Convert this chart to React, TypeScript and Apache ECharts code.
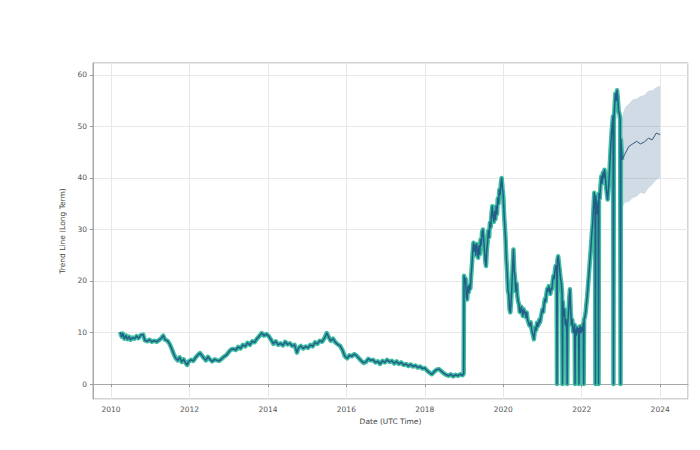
import React, { useEffect, useRef } from "react";
import * as echarts from "echarts";

const earlyYears = [
  2010.23, 2010.27, 2010.30, 2010.34, 2010.38, 2010.42, 2010.46, 2010.50, 2010.55, 2010.60,
  2010.65, 2010.70, 2010.76, 2010.82, 2010.86, 2010.92, 2010.98, 2011.04, 2011.10, 2011.16,
  2011.22, 2011.28, 2011.33, 2011.38, 2011.44, 2011.50, 2011.55, 2011.60, 2011.65, 2011.70,
  2011.75, 2011.80, 2011.85, 2011.90, 2011.94, 2011.98, 2012.04, 2012.10, 2012.16, 2012.22,
  2012.27, 2012.32, 2012.37, 2012.42, 2012.47, 2012.52, 2012.58, 2012.64, 2012.70, 2012.76,
  2012.82, 2012.88, 2012.94, 2013.00, 2013.06, 2013.12, 2013.18, 2013.24, 2013.30, 2013.36,
  2013.42, 2013.48, 2013.54, 2013.60, 2013.66, 2013.72, 2013.78, 2013.84, 2013.90, 2013.96,
  2014.02, 2014.08, 2014.14, 2014.20, 2014.26, 2014.32, 2014.38, 2014.44, 2014.50, 2014.56,
  2014.62, 2014.68, 2014.74, 2014.78, 2014.84, 2014.90, 2014.96, 2015.02, 2015.08, 2015.14,
  2015.20, 2015.26, 2015.32, 2015.38, 2015.44, 2015.50, 2015.55, 2015.60, 2015.66, 2015.72,
  2015.78, 2015.84, 2015.90, 2015.96, 2016.02, 2016.08, 2016.14, 2016.20, 2016.26, 2016.32,
  2016.38, 2016.44, 2016.50, 2016.56, 2016.62, 2016.68, 2016.74, 2016.80, 2016.86, 2016.92,
  2016.98, 2017.04, 2017.10, 2017.16, 2017.22, 2017.28, 2017.34, 2017.40, 2017.46, 2017.52,
  2017.58, 2017.64, 2017.70, 2017.76, 2017.82, 2017.88, 2017.94, 2018.00, 2018.06, 2018.12,
  2018.18, 2018.24, 2018.30, 2018.36, 2018.42, 2018.48, 2018.54, 2018.60, 2018.66, 2018.72,
  2018.78, 2018.84, 2018.90, 2018.96, 2018.99,
];

const earlyValues = [
  10.1, 9.2, 9.8, 8.8, 9.4, 8.7, 9.2, 8.6, 9.0, 8.8,
  9.3, 8.9, 9.5, 9.6, 8.5, 8.3, 8.6, 8.2, 8.4, 8.2,
  8.5, 8.9, 9.4, 8.6, 8.4, 7.7, 6.8, 5.8, 5.0, 4.6,
  5.2, 4.3, 4.8, 4.1, 3.7, 4.4, 4.7, 4.5, 5.2, 5.7,
  6.0, 5.5, 5.0, 4.6, 5.3, 4.8, 4.4, 4.8, 4.6, 4.5,
  4.9, 5.3, 5.6, 6.2, 6.7, 6.8, 6.6, 7.2, 6.9, 7.6,
  7.3, 8.0, 7.6, 8.3, 8.1, 8.8, 9.3, 9.9, 9.4, 9.7,
  9.3, 8.6, 7.8, 8.3, 7.6, 7.9, 7.5, 8.2, 7.7, 7.9,
  7.4, 7.6, 6.1, 7.0, 7.4, 6.9, 7.3, 7.0, 7.6, 7.3,
  8.1, 7.8, 8.4, 8.2, 8.9, 9.9, 9.1, 8.4, 8.8, 8.1,
  7.7, 7.4, 6.6, 5.4, 5.0, 5.6, 5.4, 5.8, 5.5, 5.0,
  4.5, 4.1, 4.3, 4.9, 4.6, 4.7, 4.2, 4.4, 3.9, 4.5,
  4.2, 4.7, 4.3, 4.5, 4.0, 4.4, 3.9, 4.2, 3.7, 3.9,
  3.5, 3.8, 3.4, 3.6, 3.2, 3.4, 3.0, 3.1, 2.6, 2.2,
  1.9, 2.4, 2.8, 2.9, 2.5, 2.1, 1.8, 1.6, 1.9, 1.5,
  1.8, 1.6, 1.9, 1.7, 2.0,
];

const lateYears = [
  2019.00, 2019.02, 2019.04, 2019.06, 2019.08, 2019.10, 2019.12, 2019.14, 2019.16, 2019.18,
  2019.20, 2019.22, 2019.24, 2019.26, 2019.28, 2019.30, 2019.32, 2019.34, 2019.36, 2019.38,
  2019.40, 2019.42, 2019.44, 2019.46, 2019.48, 2019.50, 2019.52, 2019.54, 2019.56, 2019.58,
  2019.60, 2019.62, 2019.64, 2019.66, 2019.68, 2019.70, 2019.72, 2019.74, 2019.76, 2019.78,
  2019.80, 2019.82, 2019.84, 2019.86, 2019.88, 2019.90, 2019.92, 2019.94, 2019.96, 2019.98,
  2020.00, 2020.02, 2020.04, 2020.06, 2020.08, 2020.10, 2020.12, 2020.14, 2020.16, 2020.18,
  2020.20, 2020.22, 2020.24, 2020.26, 2020.28, 2020.30, 2020.32, 2020.34, 2020.36, 2020.38,
  2020.40, 2020.42, 2020.44, 2020.46, 2020.48, 2020.50, 2020.52, 2020.54, 2020.56, 2020.58,
  2020.60, 2020.62, 2020.64, 2020.66, 2020.68, 2020.70, 2020.72, 2020.74, 2020.76, 2020.78,
  2020.80, 2020.82, 2020.84, 2020.86, 2020.88, 2020.90, 2020.92, 2020.94, 2020.96, 2020.98,
  2021.00, 2021.02, 2021.04, 2021.06, 2021.08, 2021.10, 2021.12, 2021.14, 2021.16, 2021.18,
  2021.20, 2021.22, 2021.24, 2021.26, 2021.28, 2021.30, 2021.32, 2021.34, 2021.36, 2021.38,
  2021.40, 2021.42, 2021.44, 2021.46, 2021.48, 2021.50, 2021.52, 2021.54, 2021.56, 2021.58,
  2021.60, 2021.62, 2021.64, 2021.66, 2021.68, 2021.70, 2021.72, 2021.74, 2021.76, 2021.78,
  2021.80, 2021.82, 2021.84, 2021.86, 2021.88, 2021.90, 2021.92, 2021.94, 2021.96, 2021.98,
  2022.00, 2022.02, 2022.04, 2022.06, 2022.08, 2022.10, 2022.12, 2022.14, 2022.16, 2022.18,
  2022.20, 2022.22, 2022.24, 2022.26, 2022.28, 2022.30, 2022.32, 2022.34, 2022.36, 2022.38,
  2022.40, 2022.42, 2022.44, 2022.46, 2022.48, 2022.50, 2022.52, 2022.54, 2022.56, 2022.58,
  2022.60, 2022.62, 2022.64, 2022.66, 2022.68, 2022.70, 2022.72, 2022.74, 2022.76, 2022.78,
  2022.80, 2022.82, 2022.84, 2022.86, 2022.88, 2022.90, 2022.92, 2022.94, 2022.96, 2022.98,
  2023.00, 2023.02, 2023.03,
];

const lateValues = [
  21.0, 19.5, 20.5, 17.0, 16.4, 19.0, 17.8, 19.2, 18.5, 21.0,
  23.0, 25.5, 27.4, 25.8, 27.0, 25.0, 27.2, 26.0, 24.5, 26.8,
  25.2, 28.0, 27.0, 29.5, 30.0, 28.2, 26.0, 24.0, 22.9, 26.0,
  27.5, 29.8, 28.5, 31.3, 30.5, 33.0, 34.5, 32.5, 31.5, 33.5,
  32.0, 34.5, 33.0, 36.0, 35.0, 37.7, 36.8, 39.0, 40.0, 38.0,
  36.5, 33.0, 30.5, 28.0, 24.0, 21.5, 18.0, 17.5, 14.5, 13.9,
  16.0, 19.0, 23.0, 26.1, 22.0, 20.5, 18.0, 19.5, 17.0, 16.0,
  15.5, 14.0, 13.9, 15.0, 14.2, 13.2, 14.5, 13.8, 14.0, 13.0,
  13.9, 12.5, 12.0, 11.5, 11.3, 12.0, 10.8, 10.0, 9.5, 8.7,
  10.0, 11.0, 10.5, 11.9, 11.2, 11.5, 12.5, 12.0, 13.0, 13.8,
  14.5, 14.0, 15.5, 16.5, 16.0, 17.5, 18.5, 18.0, 19.0, 18.2,
  17.5, 18.5, 18.4, 20.0, 21.0, 20.5, 22.2, 23.0, 22.0, 24.0,
  24.8, 23.5, 22.0, 20.5, 19.6, 17.5, 16.0, 13.2, 14.5, 11.5,
  12.5, 10.0, 11.5, 13.5, 16.5, 18.4, 14.0, 11.5, 12.5, 10.2,
  10.0, 11.5, 10.5, 9.5, 11.0, 10.0, 10.8, 9.8, 11.2, 10.0,
  11.0, 10.2, 11.8, 12.5, 13.0, 13.9, 15.5, 17.0, 19.0, 21.0,
  23.0, 25.0, 27.0, 29.4, 31.0, 34.0, 37.1, 35.0, 36.5, 34.0,
  33.0, 35.5, 37.0, 36.0, 38.5, 40.3, 39.0, 41.0, 40.0, 41.6,
  40.5, 38.5, 37.0, 35.8, 37.5, 40.0, 43.0, 46.0, 48.5, 50.5,
  52.0, 51.0, 54.0, 56.4, 55.0, 57.0, 55.5, 53.0, 52.5, 51.4,
  47.5, 45.0, 43.5,
];

const dropYears = [
  2021.37, 2021.51, 2021.63, 2021.83, 2021.93, 2022.05, 2022.35, 2022.43, 2022.81, 2022.99,
];

const forecastYears = [2023.03, 2023.1, 2023.2, 2023.3, 2023.4, 2023.5, 2023.6, 2023.7, 2023.8, 2023.9, 2024.0];
const forecastMid = [43.5, 44.6, 46.1, 46.6, 47.1, 46.6, 47.0, 47.7, 47.4, 48.7, 48.4];
const forecastUpper = [52.0, 53.6, 54.4, 55.2, 55.4, 55.9, 56.1, 56.9, 57.0, 57.6, 57.9];
const forecastLower = [34.0, 35.2, 35.4, 36.1, 36.4, 37.1, 36.9, 38.0, 38.7, 39.6, 40.1];

const xTickYears = [2010, 2012, 2014, 2016, 2018, 2020, 2022, 2024];

export default function App() {
  const ref = useRef<HTMLDivElement>(null);
  useEffect(() => {
    if (!ref.current) return;
    const chart = echarts.init(ref.current, undefined, { renderer: "svg" });

    const pts: number[][] = [
      ...earlyYears.map((y, i) => [y, earlyValues[i]]),
      ...lateYears.map((y, i) => [y, lateValues[i]]),
    ];
    dropYears.forEach((d) => pts.push([d, 0]));
    pts.sort((a, b) => a[0] - b[0]);

    const bandData = forecastYears.map((y, i) => [y, forecastLower[i], forecastUpper[i]]);
    const fcMid = forecastYears.map((y, i) => [y, forecastMid[i]]);

    const font = "DejaVu Sans";
    chart.setOption({
      animation: false,
      backgroundColor: "#ffffff",
      grid: {
        left: 93,
        right: 12,
        top: 63,
        bottom: 51,
        show: true,
        borderColor: "#a8a8a8",
        borderWidth: 1,
        backgroundColor: "transparent",
      },
      xAxis: {
        type: "value",
        min: 2009.54,
        max: 2024.71,
        splitNumber: 7,
        name: "Date (UTC Time)",
        nameLocation: "middle",
        nameGap: 18,
        nameTextStyle: { fontFamily: font, fontSize: 7.5, color: "#444" },
        axisLine: { show: true, lineStyle: { color: "#a8a8a8" } },
        axisTick: { show: true, length: 3, lineStyle: { color: "#999" } },
        axisLabel: {
          fontFamily: font,
          fontSize: 7.5,
          color: "#555",
          margin: 6,
          showMinLabel: false,
          showMaxLabel: false,
          formatter: (v: number) =>
            xTickYears.includes(Math.round(v)) && Math.abs(v - Math.round(v)) < 1e-6 ? String(Math.round(v)) : "",
        },
        splitLine: { show: true, lineStyle: { color: "#e8e8e8", width: 1 } },
      },
      yAxis: {
        type: "value",
        min: -2.9,
        max: 62.3,
        splitNumber: 6,
        name: "Trend Line (Long Term)",
        nameLocation: "middle",
        nameGap: 26,
        nameTextStyle: { fontFamily: font, fontSize: 7.5, color: "#444" },
        axisLine: { show: true, lineStyle: { color: "#a8a8a8" } },
        axisTick: { show: true, length: 3, lineStyle: { color: "#999" } },
        axisLabel: {
          fontFamily: font,
          fontSize: 7.5,
          color: "#555",
          margin: 6,
          showMinLabel: false,
          showMaxLabel: false,
          formatter: (v: number) =>
            Math.abs(v - Math.round(v)) < 1e-6 && Math.round(v) % 10 === 0 ? String(Math.round(v)) : "",
        },
        splitLine: { show: true, lineStyle: { color: "#e8e8e8", width: 1 } },
      },
      series: [
        {
          type: "custom",
          name: "band",
          data: bandData,
          encode: { x: 0, y: [1, 2] },
          silent: true,
          z: 1,
          renderItem: (params: any, api: any) => {
            if (params.dataIndex !== 0) return null;
            const upper = bandData.map((d) => api.coord([d[0], d[2]]));
            const lower = bandData.map((d) => api.coord([d[0], d[1]])).reverse();
            return {
              type: "polygon",
              shape: { points: [...upper, ...lower] },
              style: { fill: "rgba(100,135,170,0.3)", stroke: "none" },
            };
          },
        },
        {
          type: "line",
          name: "price",
          data: pts,
          showSymbol: false,
          symbol: "none",
          lineStyle: { color: "#3dbda1", width: 4.5, join: "round" },
          z: 2,
        },
        {
          type: "line",
          name: "trend",
          data: pts,
          showSymbol: false,
          symbol: "none",
          lineStyle: { color: "#225f88", width: 1.5, join: "round" },
          z: 3,
        },
        {
          type: "line",
          name: "forecast",
          data: fcMid,
          showSymbol: false,
          symbol: "none",
          lineStyle: { color: "#34587c", width: 1 },
          z: 4,
        },
      ],
    });
    return () => chart.dispose();
  }, []);

  return (
    <div
      ref={ref}
      style={{ position: "fixed", left: 0, top: 0, width: 700, height: 450, background: "#fff" }}
    />
  );
}
